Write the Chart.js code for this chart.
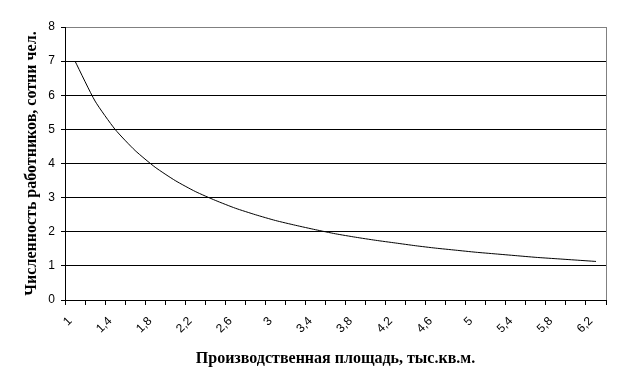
<!DOCTYPE html>
<html>
<head>
<meta charset="utf-8">
<script src="https://cdn.jsdelivr.net/npm/chart.js@4/dist/chart.umd.min.js"></script>
<style>
html,body{margin:0;padding:0;background:#fff;}
#wrap{width:621px;height:386px;}
</style>
</head>
<body>
<div id="wrap"><canvas id="c" width="621" height="386"></canvas></div>
<script>
const categories = ['1','1,2','1,4','1,6','1,8','2','2,2','2,4','2,6','2,8','3','3,2','3,4','3,6','3,8','4','4,2','4,4','4,6','4,8','5','5,2','5,4','5,6','5,8','6','6,2'];
const workers = [7.0,5.83,5.0,4.38,3.89,3.5,3.18,2.92,2.69,2.5,2.33,2.19,2.06,1.94,1.84,1.75,1.67,1.59,1.52,1.46,1.4,1.35,1.3,1.25,1.21,1.17,1.13];
const yTicks = [0,1,2,3,4,5,6,7,8];
const xTitle = 'Производственная площадь, тыс.кв.м.';
const yTitle = 'Численность работников, сотни чел.';

const borderPlugin = {
  id: 'border',
  afterDraw(chart) {
    const a = chart.chartArea, ctx = chart.ctx;
    ctx.save();
    ctx.strokeStyle = '#808080';
    ctx.lineWidth = 1;
    ctx.beginPath();
    ctx.moveTo(Math.round(a.right) + 0.5, a.top);
    ctx.lineTo(Math.round(a.right) + 0.5, a.bottom);
    ctx.stroke();
    ctx.restore();
  }
};

new Chart(document.getElementById('c'), {
  type: 'line',
  data: {
    labels: categories,
    datasets: [{
      data: workers,
      borderColor: '#000',
      borderWidth: 1,
      pointRadius: 0,
      tension: 0.2,
      fill: false
    }]
  },
  options: {
    responsive: false,
    animation: false,
    devicePixelRatio: 1,
    layout: { padding: { left: 0, right: 15, top: 27, bottom: 0 } },
    plugins: { legend: { display: false }, tooltip: { enabled: false } },
    scales: {
      x: {
        offset: true,
        afterFit(s) { s.height = 86; },
        grid: { offset: true, drawOnChartArea: false, drawTicks: true, tickLength: 5, color: '#000' },
        border: { color: '#000', width: 1 },
        ticks: {
          autoSkip: false,
          maxRotation: 45, minRotation: 45,
          color: '#000',
          font: { family: 'Liberation Sans', size: 12 },
          padding: 9,
          labelOffset: -5,
          callback(v, i) { return i % 2 === 0 ? categories[i] : ''; }
        },
        title: {
          display: true, text: xTitle, color: '#000',
          font: { family: 'Liberation Serif', size: 16, weight: 'bold' },
          padding: { top: 10, bottom: 18 }
        }
      },
      y: {
        min: 0, max: 8,
        afterFit(s) { s.width = 65; },
        afterBuildTicks(s) { s.ticks = yTicks.map(v => ({ value: v })); },
        grid: {
          color(ctx) { return ctx.tick && ctx.tick.value === 8 ? '#808080' : '#000'; },
          tickColor: '#000',
          tickLength: 4,
          lineWidth: 1
        },
        border: { color: '#000', width: 1 },
        ticks: {
          color: '#000',
          font: { family: 'Liberation Sans', size: 12 },
          padding: 6
        },
        title: {
          display: true, text: yTitle, color: '#000',
          font: { family: 'Liberation Serif', size: 16, weight: 'bold' },
          padding: { top: 22, bottom: 4 }
        }
      }
    }
  },
  plugins: [borderPlugin]
});
</script>
</body>
</html>
